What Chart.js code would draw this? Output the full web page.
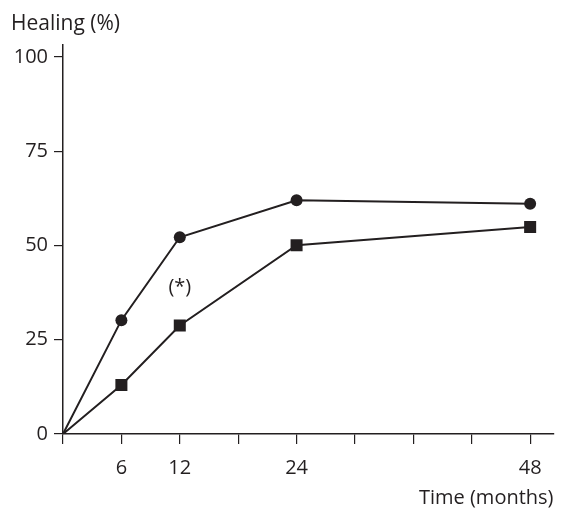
<!DOCTYPE html>
<html>
<head>
<meta charset="utf-8">
<script src="https://cdn.jsdelivr.net/npm/chart.js@4"></script>
<style>
  html, body { margin: 0; padding: 0; background: #fff; }
  #wrap { width: 562px; height: 508px; position: relative; }
</style>
</head>
<body>
<div id="wrap"><canvas id="healChart"></canvas></div>
<script>
// donnees
const months = [0, 6, 12, 24, 48];
const circleSeries = [0, 30.2, 52.2, 62.0, 61.1];
const squareSeries = [0, 13.0, 28.8, 50.1, 54.9];
const xTickValues = [0, 6, 12, 18, 24, 30, 36, 42, 48];
const xTickLabels = [6, 12, 24, 48];
const yTickValues = [0, 25, 50, 75, 100];
const note = { x: 12, y: 39, text: '(*)' };

const INK = '#231f20';
const FONT = "'Open Sans', 'Noto Sans', sans-serif";

const toPoints = (vals) => months.map((m, i) => ({ x: m, y: vals[i] }));

// textes libres : titre de l'axe Y et l'asterisque
const textPlugin = {
    id: 'textes',
    afterDraw(chart) {
        const c = chart.ctx;
        const xs = chart.scales.x, ys = chart.scales.y;
        c.save();
        c.fillStyle = INK;
        c.font = '21px ' + FONT;
        c.textBaseline = 'alphabetic';
        c.textAlign = 'left';
        c.fillText('Healing (%)', 11, 30);
        c.font = '20px ' + FONT;
        c.textAlign = 'center';
        c.textBaseline = 'middle';
        c.fillText(note.text, xs.getPixelForValue(note.x), ys.getPixelForValue(note.y));
        c.restore();
    }
};

new Chart(document.getElementById('healChart'), {
    type: 'line',
    data: {
        datasets: [{
            label: 'Series 1',
            data: toPoints(circleSeries),
            borderColor: INK,
            borderWidth: 2,
            backgroundColor: INK,
            pointStyle: 'circle',
            pointRadius: (ctx) => ctx.dataIndex === 0 ? 0 : 6,
            pointBorderWidth: 0,
            tension: 0
        }, {
            label: 'Series 2',
            data: toPoints(squareSeries),
            borderColor: INK,
            borderWidth: 2,
            backgroundColor: INK,
            pointStyle: 'rect',
            pointRadius: (ctx) => ctx.dataIndex === 0 ? 0 : 8.5,
            pointBorderWidth: 0,
            tension: 0
        }]
    },
    options: {
        responsive: true,
        maintainAspectRatio: false,
        animation: false,
        layout: { padding: { left: 0, top: 45, right: 6, bottom: 0 } },
        plugins: {
            legend: { display: false },
            tooltip: { enabled: false }
        },
        scales: {
            x: {
                type: 'linear',
                min: 0,
                max: 50.4,
                afterFit: (axis) => { axis.height = 74; },
                afterBuildTicks: (axis) => { axis.ticks = xTickValues.map(v => ({ value: v })); },
                border: { color: INK, width: 1.5 },
                grid: { drawOnChartArea: false, color: INK, lineWidth: 1.2, tickLength: 10 },
                ticks: {
                    color: INK,
                    padding: 12,
                    maxRotation: 0,
                    autoSkip: false,
                    font: { family: FONT, size: 20 },
                    callback: (v) => xTickLabels.includes(v) ? String(v) : ''
                },
                title: {
                    display: true,
                    text: 'Time (months)',
                    align: 'end',
                    color: INK,
                    font: { family: FONT, size: 20 },
                    padding: { top: 0, bottom: -2 }
                }
            },
            y: {
                min: 0,
                max: 103.2,
                afterFit: (axis) => { axis.width = 63; },
                afterBuildTicks: (axis) => { axis.ticks = yTickValues.map(v => ({ value: v })); },
                border: { color: INK, width: 1.5 },
                grid: { drawOnChartArea: false, color: INK, lineWidth: 1.2, tickLength: 9 },
                ticks: {
                    color: INK,
                    padding: 6,
                    font: { family: FONT, size: 20 }
                }
            }
        }
    },
    plugins: [textPlugin]
});
</script>
</body>
</html>
